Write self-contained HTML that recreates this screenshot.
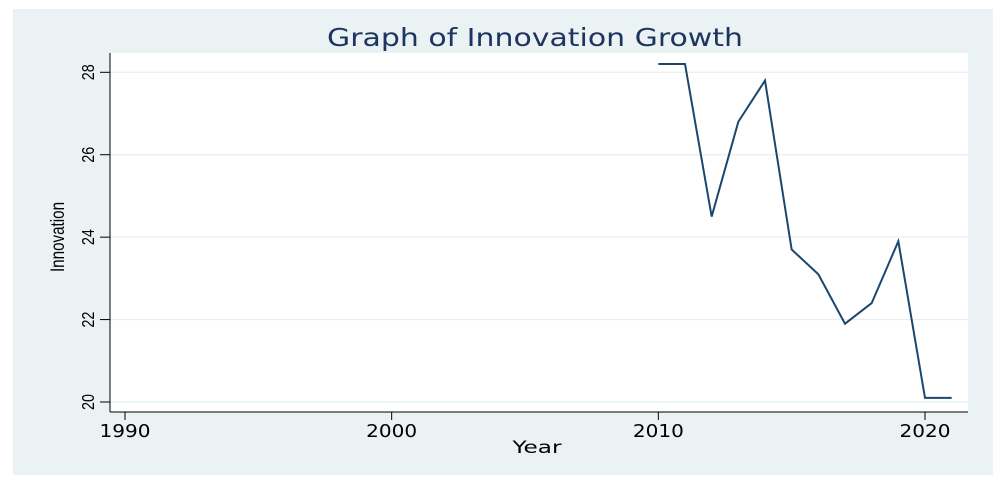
<!DOCTYPE html>
<html><head><meta charset="utf-8"><style>
html,body{margin:0;padding:0;background:#fff;}
svg{display:block;font-family:"Liberation Sans",sans-serif;}
</style></head><body>
<svg id="chart" width="1007" height="488" viewBox="0 0 1007 488">
<rect x="13" y="9" width="980" height="466" fill="#eaf2f3"/>
<rect x="110" y="53" width="858" height="359" fill="#ffffff"/>
<text x="535" y="46" text-anchor="middle" font-family="DejaVu Sans, sans-serif" font-size="25" fill="#1e3560" textLength="416" lengthAdjust="spacingAndGlyphs">Graph of Innovation Growth</text>
<g id="grid"></g>
<g id="axes"></g>
<g id="series"></g>
<text x="537" y="453" text-anchor="middle" font-family="DejaVu Sans, sans-serif" font-size="17" fill="#000" textLength="49" lengthAdjust="spacingAndGlyphs">Year</text>
<text transform="translate(64,237) rotate(-90) scale(0.8,1)" text-anchor="middle" font-size="19" fill="#000">Innovation</text>
</svg>
<script>
const years = [2010, 2011, 2012, 2013, 2014, 2015, 2016, 2017, 2018, 2019, 2020, 2021];
const innovation = [28.2, 28.2, 24.5, 26.8, 27.8, 23.7, 23.1, 21.9, 22.4, 23.9, 20.1, 20.1];
const yTicks = [20, 22, 24, 26, 28];
const xTicks = [1990, 2000, 2010, 2020];

const NS = "http://www.w3.org/2000/svg";
function xs(v){ return 125 + (v - 1990) * (925 - 125) / 30; }
function ys(v){ return 402 - (v - 20) * (402 - 72.3) / 8; }
function mk(tag, attrs, parent){
  const e = document.createElementNS(NS, tag);
  for (const k in attrs) e.setAttribute(k, attrs[k]);
  document.getElementById(parent).appendChild(e);
  return e;
}
yTicks.forEach(t => {
  const g = mk("line", {x1:110, x2:968, y1:ys(t), y2:ys(t), stroke:"#e6eff0", "stroke-width":1.2}, "grid");
  
  
  const tk = mk("line", {x1:100, x2:110, y1:ys(t), y2:ys(t), stroke:"#000", "stroke-width":1}, "axes");
  
  
  const lb = mk("text", {transform:"translate(94," + ys(t) + ") rotate(-90) scale(0.8,1)", "text-anchor":"middle", "font-size":18, fill:"#000"}, "axes");
  lb.textContent = t;
  
  
});
xTicks.forEach(t => {
  const tk = mk("line", {x1:xs(t), x2:xs(t), y1:412, y2:420, stroke:"#000", "stroke-width":1}, "axes");
  
  
  const lb = mk("text", {x:xs(t), y:437, "text-anchor":"middle", "font-size":18, "font-family":"DejaVu Sans, sans-serif", textLength:51, lengthAdjust:"spacingAndGlyphs", fill:"#000"}, "axes");
  lb.textContent = t;
  
  
});
const ya = mk("line", {x1:110, x2:110, y1:53, y2:412, stroke:"#000", "stroke-width":1}, "axes");


const xa = mk("line", {x1:110, x2:968, y1:412, y2:412, stroke:"#000", "stroke-width":1}, "axes");


const pts = years.map((y, i) => xs(y) + "," + ys(innovation[i])).join(" ");
const line = mk("polyline", {points:pts, fill:"none", stroke:"#1a476f", "stroke-width":2, "stroke-linejoin":"miter"}, "series");


</script>
</body></html>
